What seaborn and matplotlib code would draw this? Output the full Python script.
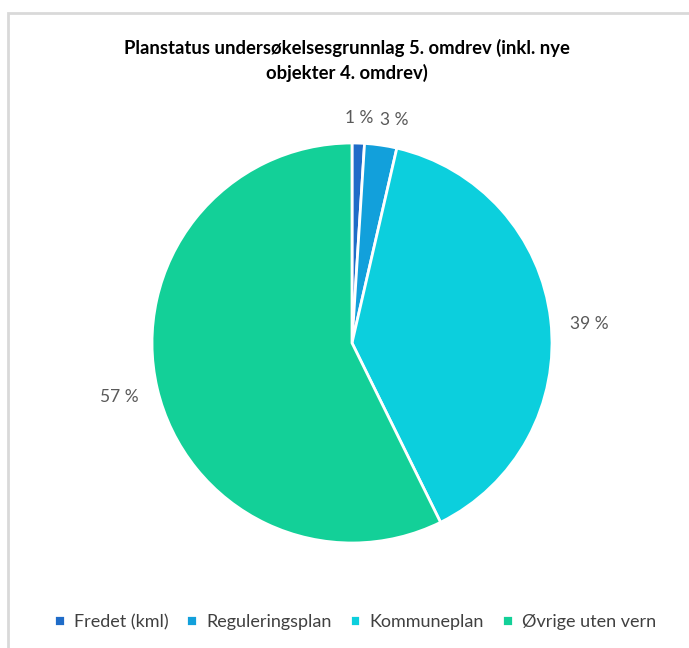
import numpy as np
import seaborn as sns
import matplotlib.pyplot as plt
from matplotlib.patches import Rectangle

categories = ["Fredet (kml)", "Reguleringsplan", "Kommuneplan", "Øvrige uten vern"]
shares = [1.0, 2.6, 39.1, 57.3]
colors = ["#1F6CC8", "#12A0DB", "#0CCFDD", "#13D098"]
title = "Planstatus undersøkelsesgrunnlag 5. omdrev (inkl. nye\nobjekter 4. omdrev)"

sns.set_theme(style="white")
plt.rcParams["font.family"] = ["Lato", "DejaVu Sans"]

fig = plt.figure(figsize=(6.89, 6.48), dpi=100)
fig.patch.set_facecolor("white")

# light grey frame (only left and top visible in the reference)
fig.add_artist(Rectangle((8 / 689, -0.05), 1.1, (648 - 13) / 648 + 0.05,
                         transform=fig.transFigure, fill=False,
                         edgecolor="#D9D9D9", linewidth=2))

ax = fig.add_axes([152 / 689, 105 / 648, 400 / 689, 400 / 648])
pal = sns.color_palette(colors)
wedges, texts, autotexts = ax.pie(
    shares, colors=pal, startangle=90, counterclock=False,
    autopct=lambda p: f"{p:.0f} %", pctdistance=1.16,
    wedgeprops=dict(edgecolor="white", linewidth=2),
    textprops=dict(color="#595959", fontsize=12.5))
ax.set_aspect("equal")
ax.set_xlim(-1, 1)
ax.set_ylim(-1, 1)

# nudge labels roughly to where Excel placed them
scale = [0.97, 0.97, 1.03, 1.03]
for t, s in zip(autotexts, scale):
    x, y = t.get_position()
    t.set_position((x * s, y * s))
x, y = autotexts[1].get_position()
autotexts[1].set_position((x + 0.05, y))
x, y = autotexts[2].get_position()
autotexts[2].set_position((x, y - 0.045))

fig.text(0.503, 1 - 60 / 648, title, ha="center", va="center",
         fontsize=13.3, fontweight="bold", color="black", linespacing=1.45)

leg = fig.legend(wedges, categories, loc="center", ncol=4,
                 bbox_to_anchor=(0.515, 1 - 622 / 648), frameon=False,
                 handlelength=0.6, handleheight=0.6, handletextpad=0.5,
                 columnspacing=1.0, fontsize=13)
for t in leg.get_texts():
    t.set_color("#404040")

plt.savefig("out.png", dpi=100, facecolor="white")
plt.close()
